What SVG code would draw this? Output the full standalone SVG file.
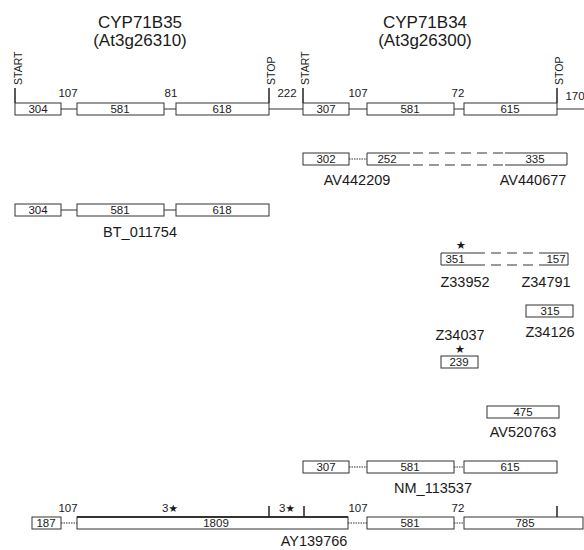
<svg xmlns="http://www.w3.org/2000/svg" width="584" height="550" viewBox="0 0 584 550">
<style>
text{font-family:"Liberation Sans",Arial,sans-serif;fill:#1a1a1a}
.t{font-size:17px;text-anchor:middle}
.n{font-size:11.5px;text-anchor:middle}
.g{font-size:14.5px;text-anchor:middle}
.v{font-size:10.5px}
.s{font-family:"DejaVu Sans",sans-serif;font-size:11.5px;text-anchor:middle}
.box{fill:#fff;stroke:#333;stroke-width:1}
.ln{stroke:#333;stroke-width:1;fill:none}
.dot{stroke:#333;stroke-width:1;stroke-dasharray:1.5 1;fill:none}
.dash{stroke:#333;stroke-width:1;stroke-dasharray:10 6;fill:none}
.tk{stroke:#222;stroke-width:1.5;fill:none}
</style>
<rect width="584" height="550" fill="#fff"/>

<g id="connectors">
  <line class="ln" x1="61" y1="109" x2="77" y2="109"/>
  <line class="ln" x1="164" y1="109" x2="176" y2="109"/>
  <line class="ln" x1="269" y1="109" x2="303" y2="109"/>
  <line class="ln" x1="349" y1="109" x2="367" y2="109"/>
  <line class="ln" x1="454" y1="109" x2="464" y2="109"/>
  <line class="ln" x1="557" y1="109" x2="584" y2="109"/>
  <line class="dot" x1="349" y1="159" x2="367" y2="159"/>
  <line class="ln" x1="61" y1="210" x2="77" y2="210"/>
  <line class="ln" x1="164" y1="210" x2="176" y2="210"/>
  <line class="dot" x1="349" y1="467" x2="367" y2="467"/>
  <line class="dot" x1="454" y1="467" x2="464" y2="467"/>
  <line class="dot" x1="61" y1="523" x2="77" y2="523"/>
  <line class="dot" x1="348" y1="523" x2="367" y2="523"/>
  <line class="dot" x1="454" y1="523" x2="464" y2="523"/>
</g>

<g id="CYP71B35">
  <text class="t" x="140" y="28">CYP71B35</text>
  <text class="t" x="140" y="46">(At3g26310)</text>
  <line class="tk" x1="15" y1="88" x2="15" y2="103"/>
  <text class="v" transform="translate(22,85) rotate(-90)">START</text>
  <line class="tk" x1="269" y1="88" x2="269" y2="103"/>
  <text class="v" transform="translate(275,85) rotate(-90)">STOP</text>
  <rect class="box" x="15" y="103" width="46" height="12"/>
  <text class="n" x="38" y="113">304</text>
  <rect class="box" x="77" y="103" width="87" height="12"/>
  <text class="n" x="120" y="113">581</text>
  <rect class="box" x="176" y="103" width="93" height="12"/>
  <text class="n" x="222" y="113">618</text>
  <text class="n" x="68" y="97">107</text>
  <text class="n" x="171" y="97">81</text>
  <text class="n" x="287" y="97">222</text>
</g>

<g id="CYP71B34">
  <text class="t" x="425" y="28">CYP71B34</text>
  <text class="t" x="425" y="46">(At3g26300)</text>
  <line class="tk" x1="303" y1="88" x2="303" y2="103"/>
  <text class="v" transform="translate(309,85) rotate(-90)">START</text>
  <line class="tk" x1="557" y1="88" x2="557" y2="103"/>
  <text class="v" transform="translate(563,85) rotate(-90)">STOP</text>
  <rect class="box" x="303" y="103" width="46" height="12"/>
  <text class="n" x="326" y="113">307</text>
  <rect class="box" x="367" y="103" width="87" height="12"/>
  <text class="n" x="410" y="113">581</text>
  <rect class="box" x="464" y="103" width="93" height="12"/>
  <text class="n" x="510" y="113">615</text>
  <text class="n" x="358" y="97">107</text>
  <text class="n" x="458" y="97">72</text>
  <text class="n" x="575" y="100">170</text>
</g>

<g id="AV442209">
  <rect class="box" x="303" y="153" width="46" height="12"/>
  <text class="n" x="326" y="163">302</text>
  <path class="ln" d="M410,153 H367 V165 H410"/>
  <text class="n" x="387" y="163">252</text>
  <text class="g" x="357" y="185">AV442209</text>
</g>
<g id="AV440677">
  <line class="dash" x1="413" y1="153" x2="505" y2="153"/>
  <line class="dash" x1="413" y1="165" x2="505" y2="165"/>
  <path class="ln" d="M505,153 H567 V165 H505"/>
  <text class="n" x="535" y="163">335</text>
  <text class="g" x="533" y="185">AV440677</text>
</g>

<g id="BT_011754">
  <rect class="box" x="15" y="204" width="46" height="12"/>
  <text class="n" x="38" y="214">304</text>
  <rect class="box" x="77" y="204" width="87" height="12"/>
  <text class="n" x="120" y="214">581</text>
  <rect class="box" x="176" y="204" width="93" height="12"/>
  <text class="n" x="222" y="214">618</text>
  <text class="g" x="140" y="237">BT_011754</text>
</g>

<g id="Z33952">
  <text class="s" x="461" y="249">★</text>
  <path class="ln" d="M485,253 H441 V265 H485"/>
  <text class="n" x="455" y="263">351</text>
  <text class="g" x="465" y="287">Z33952</text>
</g>
<g id="Z34791">
  <line class="dash" x1="491" y1="253" x2="542" y2="253"/>
  <line class="dash" x1="491" y1="265" x2="542" y2="265"/>
  <path class="ln" d="M542,253 H568 V265 H542"/>
  <text class="n" x="556" y="263">157</text>
  <text class="g" x="546" y="287">Z34791</text>
</g>

<g id="Z34126">
  <rect class="box" x="526" y="305" width="47" height="12"/>
  <text class="n" x="550" y="315">315</text>
  <text class="g" x="550" y="337">Z34126</text>
</g>

<g id="Z34037">
  <text class="g" x="460" y="340">Z34037</text>
  <text class="s" x="460" y="353">★</text>
  <rect class="box" x="441" y="356" width="37" height="12"/>
  <text class="n" x="459" y="366">239</text>
</g>

<g id="AV520763">
  <rect class="box" x="487" y="406" width="72" height="12"/>
  <text class="n" x="523" y="416">475</text>
  <text class="g" x="523" y="437">AV520763</text>
</g>

<g id="NM_113537">
  <rect class="box" x="303" y="461" width="46" height="12"/>
  <text class="n" x="326" y="471">307</text>
  <rect class="box" x="367" y="461" width="87" height="12"/>
  <text class="n" x="410" y="471">581</text>
  <rect class="box" x="464" y="461" width="93" height="12"/>
  <text class="n" x="510" y="471">615</text>
  <text class="g" x="433" y="493">NM_113537</text>
</g>

<g id="AY139766">
  <rect class="box" x="32" y="517" width="29" height="12"/>
  <text class="n" x="46" y="527">187</text>
  <rect class="box" x="77" y="517" width="271" height="12"/>
  <line x1="77" y1="517" x2="348" y2="517" stroke="#333" stroke-width="1.8"/>
  <text class="n" x="216" y="527">1809</text>
  <rect class="box" x="367" y="517" width="87" height="12"/>
  <text class="n" x="410" y="527">581</text>
  <rect class="box" x="464" y="517" width="119" height="12"/>
  <text class="n" x="525" y="527">785</text>
  <line class="tk" x1="269" y1="506" x2="269" y2="517"/>
  <line class="tk" x1="304" y1="506" x2="304" y2="517"/>
  <line class="tk" x1="557" y1="506" x2="557" y2="517"/>
  <text class="n" x="68" y="512">107</text>
  <text class="n" x="170" y="512">3<tspan font-family="DejaVu Sans" font-size="10.5">★</tspan></text>
  <text class="n" x="287" y="512">3<tspan font-family="DejaVu Sans" font-size="10.5">★</tspan></text>
  <text class="n" x="358" y="512">107</text>
  <text class="n" x="458" y="512">72</text>
  <text class="g" x="314" y="546">AY139766</text>
</g>
</svg>
